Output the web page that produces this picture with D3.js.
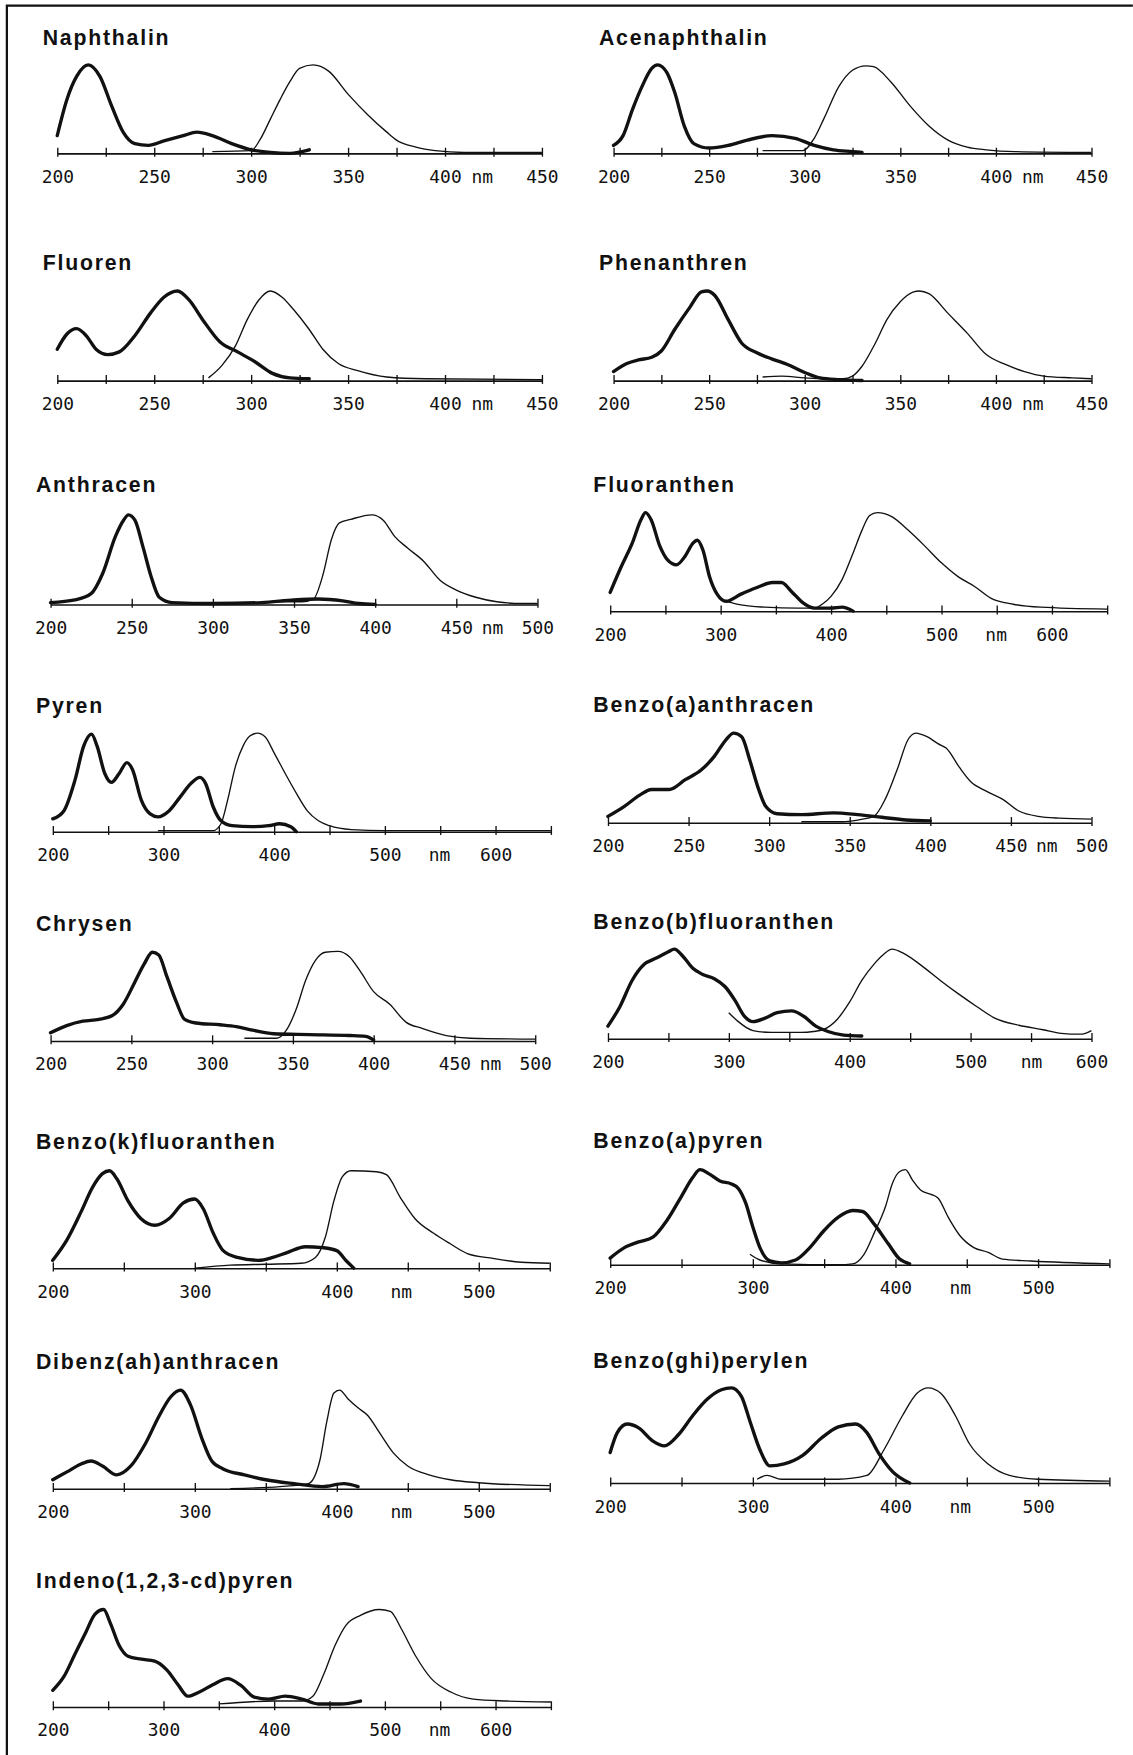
<!DOCTYPE html>
<html lang="de">
<head>
<meta charset="UTF-8">
<title>Absorptions- und Fluoreszenzspektren PAK</title>
<script src="https://cdn.jsdelivr.net/npm/d3@7"></script>
<style>
  html, body { margin: 0; padding: 0; background: #fff; }
  svg { display: block; }
  .frame { fill: none; stroke: #111; stroke-width: 2; }
  .title { font-family: "Liberation Sans", Arial, sans-serif; font-weight: bold; font-size: 19px; letter-spacing: 1.6px; fill: #111; }
  .ticks line { stroke: #111; stroke-width: 1.2; }
  .labels .domain { stroke: #111; stroke-width: 1.4; }
  .labels text { font-family: "DejaVu Sans Mono", monospace; font-size: 16px; fill: #111; }
  .abs { fill: none; stroke: #111; stroke-width: 3; stroke-linejoin: round; stroke-linecap: round; }
  .fl { fill: none; stroke: #111; stroke-width: 1.2; }
</style>
</head>
<body>
<script>
// wavelength (nm), relative intensity (peak = 100)
const naphAbs = [[200,20],[205,61],[210,87],[216,100],[222,87],[228,54],[234,24],[240,11],[247,9],[255,14],[265,20],[272,24],[280,20],[290,11],[300,4],[310,1],[320,0],[330,4]];
const naphFl = [[280,2],[300,3],[305,17],[310,39],[315,61],[320,81],[325,96],[332,100],[340,93],[350,67],[360,44],[370,24],[375,15],[385,7],[395,3],[410,1],[450,1]];

const acenAbs = [[200,9],[205,20],[210,50],[215,76],[220,96],[223,100],[228,91],[232,69],[237,31],[242,11],[250,6],[260,9],[270,15],[283,20],[295,17],[305,9],[315,4],[325,2],[330,1]];
const acenFl = [[278,3],[299,3],[305,17],[310,39],[318,76],[325,94],[332,99],[336,98],[345,81],[355,54],[365,31],[375,15],[385,7],[395,4],[410,2],[450,1]];

const fluorenAbs = [[200,35],[205,52],[210,58],[215,50],[220,35],[226,29],[232,32],[240,50],[248,75],[255,93],[262,100],[268,90],[275,68],[284,43],[293,32],[302,21],[311,8],[320,3],[330,2]];
const fluorenFl = [[278,3],[285,17],[292,39],[298,68],[304,90],[310,100],[316,93],[322,79],[330,57],[337,35],[345,19],[355,11],[370,4],[390,2],[450,1]];

const phenAbs = [[200,10],[207,19],[213,23],[220,26],[225,33],[232,57],[240,82],[246,99],[249,100],[253,95],[260,68],[267,42],[275,31],[283,24],[291,18],[300,9],[308,3],[318,1],[330,0]];
const phenFl = [[278,4],[288,5],[300,3],[310,2],[320,2],[325,5],[330,16],[337,42],[343,68],[350,88],[357,99],[360,100],[365,97],[375,75],[385,53],[395,29],[405,18],[415,10],[425,5],[440,3],[450,2]];

const anthAbs = [[200,2],[215,5],[225,12],[232,34],[240,76],[245,94],[248,100],[252,94],[257,64],[262,31],[267,8],[275,2],[300,1],[330,2],[350,5],[365,6],[380,4],[390,1],[400,0]];
const anthFl = [[340,3],[355,3],[362,6],[368,34],[373,72],[378,91],[385,95],[398,100],[405,94],[412,76],[420,63],[430,48],[440,27],[450,16],[462,8],[475,3],[490,1],[500,1]];

const fluorantAbs = [[200,19],[210,45],[220,69],[228,93],[232,100],[237,93],[245,66],[252,52],[260,47],[268,56],[275,69],[279,72],[284,62],[290,35],[297,17],[305,10],[318,17],[333,24],[347,29],[355,29],[365,19],[375,8],[385,3],[400,3],[410,4],[420,0]];
const fluorantFl = [[305,10],[320,6],[340,4],[370,3],[385,3],[392,7],[400,15],[410,32],[420,59],[428,82],[435,97],[442,100],[455,96],[470,82],[485,66],[500,49],[515,35],[530,25],[545,13],[565,7],[590,4],[650,2]];

const pyrenAbs = [[200,13],[210,21],[220,52],[228,87],[235,99],[240,87],[247,59],[253,50],[260,59],[267,70],[272,63],[280,32],[288,18],[295,15],[305,21],[315,35],[325,49],[333,55],[338,49],[345,25],[352,11],[362,6],[380,5],[395,6],[405,8],[415,5],[420,0]];
const pyrenFl = [[295,1],[345,1],[352,8],[358,32],[365,66],[372,87],[378,97],[385,100],[392,96],[400,80],[410,59],[420,39],[430,21],[440,11],[450,6],[470,2],[500,1],[650,1]];

const baAbs = [[200,7],[210,18],[220,31],[227,37],[238,37],[248,48],[258,59],[266,74],[273,92],[278,100],[283,96],[288,70],[293,40],[298,18],[305,10],[320,9],[340,11],[355,9],[370,6],[385,3],[400,2]];
const baFl = [[320,1],[345,1],[358,4],[365,7],[372,26],[380,62],[386,92],[391,100],[398,96],[405,88],[410,83],[418,62],[425,46],[435,35],[445,26],[455,13],[467,7],[480,5],[500,4]];

const chrysenAbs = [[200,9],[210,17],[220,22],[230,24],[238,28],[245,41],[252,65],[258,86],[263,99],[267,96],[272,72],[278,43],[283,24],[290,20],[305,18],[315,16],[325,12],[338,8],[360,7],[385,6],[395,5],[400,1]];
const chrysenFl = [[320,3],[340,3],[346,12],[352,35],[358,68],[364,90],[370,99],[378,100],[385,94],[392,77],[400,55],[410,41],[420,21],[430,14],[445,6],[460,3],[500,2]];

const bbfAbs = [[200,14],[210,36],[220,65],[230,83],[240,90],[250,97],[255,100],[262,92],[270,79],[278,72],[288,67],[297,58],[305,43],[313,25],[320,19],[330,23],[340,29],[352,31],[362,25],[372,14],[382,8],[395,4],[410,3]];
const bbfFl = [[300,29],[307,20],[320,9],[335,7],[360,7],[370,8],[378,10],[390,22],[400,41],[410,65],[420,83],[428,94],[435,100],[445,95],[460,81],[475,65],[490,50],[505,36],[520,23],[540,15],[560,10],[575,6],[590,5],[595,6],[600,9]];

const bkfAbs = [[200,8],[210,29],[220,58],[228,83],[235,97],[240,100],[245,92],[253,69],[262,51],[272,44],[282,51],[292,67],[300,71],[306,61],[313,36],[320,18],[330,11],[345,8],[355,11],[365,16],[378,22],[390,21],[400,18],[407,7],[412,0]];
const bkfFl = [[300,0],[325,3],[350,4],[375,5],[385,11],[392,32],[398,69],[404,94],[410,100],[428,99],[435,96],[445,72],[455,51],[468,36],[480,25],[492,15],[510,10],[530,6],[550,5]];

const bapAbs = [[200,7],[210,18],[220,24],[230,29],[240,47],[250,72],[258,92],[263,100],[270,95],[277,88],[285,85],[290,80],[295,65],[300,40],[305,18],[312,4],[320,2],[330,5],[340,18],[350,36],[360,50],[370,57],[377,56],[385,43],[395,22],[403,6],[410,1]];
const bapFl = [[298,11],[305,5],[320,1],[360,0],[370,1],[378,11],[385,33],[393,61],[398,86],[403,98],[407,100],[412,89],[418,78],[425,74],[430,70],[437,50],[445,31],[455,18],[465,13],[475,6],[495,4],[550,1]];

const dbaAbs = [[200,9],[210,17],[220,25],[227,28],[235,23],[245,14],[255,23],[265,45],[275,74],[283,93],[290,100],[297,85],[305,51],[312,28],[320,20],[335,14],[350,9],[370,5],[390,2],[405,5],[415,2]];
const dbaFl = [[325,0],[360,2],[380,5],[388,28],[393,68],[398,97],[402,100],[408,91],[415,82],[422,74],[430,57],[440,36],[450,23],[465,14],[480,9],[500,6],[550,3]];

const bghiAbs = [[200,32],[205,53],[212,62],[220,58],[230,44],[238,39],[248,51],[258,71],[268,88],[278,98],[285,100],[292,91],[298,65],[305,35],[312,18],[322,20],[335,29],[348,47],[360,59],[372,62],[380,53],[388,32],[398,12],[410,0]];
const bghiFl = [[303,4],[310,8],[320,4],[360,4],[380,8],[392,35],[405,71],[415,94],[423,100],[432,94],[442,71],[452,41],[465,20],[480,8],[500,4],[550,2]];

const indenoAbs = [[200,17],[210,31],[220,54],[230,77],[238,95],[246,100],[252,86],[260,63],[268,52],[280,49],[292,47],[303,38],[313,23],[322,11],[332,15],[345,23],[358,29],[370,22],[382,10],[395,8],[410,11],[425,8],[440,3],[460,3],[478,6]];
const indenoFl = [[350,3],[400,6],[425,6],[435,11],[445,34],[455,63],[465,84],[478,94],[495,100],[505,98],[515,80],[528,52],[542,29],[560,15],[580,8],[610,6],[650,5]];

// axis labels: [position nm, text]
const labels450 = [[200,"200"],[250,"250"],[300,"300"],[350,"350"],[400,"400"],[419,"nm"],[450,"450"]];
const labels500 = [[200,"200"],[250,"250"],[300,"300"],[350,"350"],[400,"400"],[450,"450"],[472,"nm"],[500,"500"]];
const labels650 = [[200,"200"],[300,"300"],[400,"400"],[500,"500"],[549,"nm"],[600,"600"]];
const labels600 = [[200,"200"],[300,"300"],[400,"400"],[500,"500"],[550,"nm"],[600,"600"]];
const labels550 = [[200,"200"],[300,"300"],[400,"400"],[445,"nm"],[500,"500"]];

// layout in 1012 x 1568 units (scaled to the page by the viewBox)
const panels = [
  {name: "Naphthalin", abs: naphAbs, fl: naphFl, dom: [200, 450], step: 25, labels: labels450, x0: 51, x1: 484, axisY: 137, h: 79, tx: 38, ty: 40},
  {name: "Acenaphthalin", abs: acenAbs, fl: acenFl, dom: [200, 450], step: 25, labels: labels450, x0: 548, x1: 975, axisY: 137, h: 79, tx: 535, ty: 40},
  {name: "Fluoren", abs: fluorenAbs, fl: fluorenFl, dom: [200, 450], step: 25, labels: labels450, x0: 51, x1: 484, axisY: 340, h: 80, tx: 38, ty: 241},
  {name: "Phenanthren", abs: phenAbs, fl: phenFl, dom: [200, 450], step: 25, labels: labels450, x0: 548, x1: 975, axisY: 340, h: 80, tx: 535, ty: 241},
  {name: "Anthracen", abs: anthAbs, fl: anthFl, dom: [200, 500], step: 50, labels: labels500, x0: 45, x1: 480, axisY: 540, h: 80, tx: 32, ty: 440},
  {name: "Fluoranthen", abs: fluorantAbs, fl: fluorantFl, dom: [200, 650], step: 50, labels: labels650, x0: 545, x1: 989, axisY: 546, h: 88, tx: 530, ty: 440},
  {name: "Pyren", abs: pyrenAbs, fl: pyrenFl, dom: [200, 650], step: 50, labels: labels650, x0: 47, x1: 492, axisY: 743, h: 88, tx: 32, ty: 637},
  {name: "Benzo(a)anthracen", abs: baAbs, fl: baFl, dom: [200, 500], step: 50, labels: labels500, x0: 543, x1: 975, axisY: 735, h: 80, tx: 530, ty: 636},
  {name: "Chrysen", abs: chrysenAbs, fl: chrysenFl, dom: [200, 500], step: 50, labels: labels500, x0: 45, x1: 478, axisY: 930, h: 80, tx: 32, ty: 832},
  {name: "Benzo(b)fluoranthen", abs: bbfAbs, fl: bbfFl, dom: [200, 600], step: 50, labels: labels600, x0: 543, x1: 975, axisY: 928, h: 80, tx: 530, ty: 830},
  {name: "Benzo(k)fluoranthen", abs: bkfAbs, fl: bkfFl, dom: [200, 550], step: 50, labels: labels550, x0: 47, x1: 491, axisY: 1133, h: 87, tx: 32, ty: 1027},
  {name: "Benzo(a)pyren", abs: bapAbs, fl: bapFl, dom: [200, 550], step: 50, labels: labels550, x0: 545, x1: 991, axisY: 1130, h: 85, tx: 530, ty: 1026},
  {name: "Dibenz(ah)anthracen", abs: dbaAbs, fl: dbaFl, dom: [200, 550], step: 50, labels: labels550, x0: 47, x1: 491, axisY: 1330, h: 88, tx: 32, ty: 1223},
  {name: "Benzo(ghi)perylen", abs: bghiAbs, fl: bghiFl, dom: [200, 550], step: 50, labels: labels550, x0: 545, x1: 991, axisY: 1325, h: 85, tx: 530, ty: 1222},
  {name: "Indeno(1,2,3-cd)pyren", abs: indenoAbs, fl: indenoFl, dom: [200, 650], step: 50, labels: labels650, x0: 47, x1: 492, axisY: 1525, h: 87, tx: 32, ty: 1419}
];

const svg = d3.select("body").append("svg")
    .attr("width", 1133)
    .attr("height", 1755)
    .attr("viewBox", "0 0 1012 1568");

// frame: top and left edge only
svg.append("path").attr("class", "frame").attr("d", "M6,1568V5H1012");

panels.forEach((p) => {
    let x = d3.scaleLinear().domain(p.dom).range([p.x0, p.x1]);
    let y = d3.scaleLinear().domain([0, 100]).range([p.axisY, p.axisY - p.h]);
    let g = svg.append("g");

    g.append("text")
        .attr("class", "title")
        .attr("x", p.tx)
        .attr("y", p.ty)
        .text(p.name);

    // small ticks crossing the baseline
    g.append("g")
        .attr("class", "ticks")
        .attr("transform", "translate(0," + (p.axisY + 3) + ")")
        .call(d3.axisBottom(x)
            .tickValues(d3.range(p.dom[0], p.dom[1] + 1, p.step))
            .tickSizeInner(-8)
            .tickSizeOuter(0)
            .tickFormat(""))
        .call(a => a.select(".domain").remove());

    let labelMap = new Map(p.labels);
    g.append("g")
        .attr("class", "labels")
        .attr("transform", "translate(0," + p.axisY + ")")
        .call(d3.axisBottom(x)
            .tickValues(p.labels.map(d => d[0]))
            .tickFormat(v => labelMap.get(v))
            .tickSize(0)
            .tickPadding(15));

    let line = d3.line()
        .x(d => x(d[0]))
        .y(d => y(d[1]))
        .curve(d3.curveMonotoneX);

    g.append("path").attr("class", "fl").attr("d", line(p.fl));
    g.append("path").attr("class", "abs").attr("d", line(p.abs));
});
</script>
</body>
</html>
